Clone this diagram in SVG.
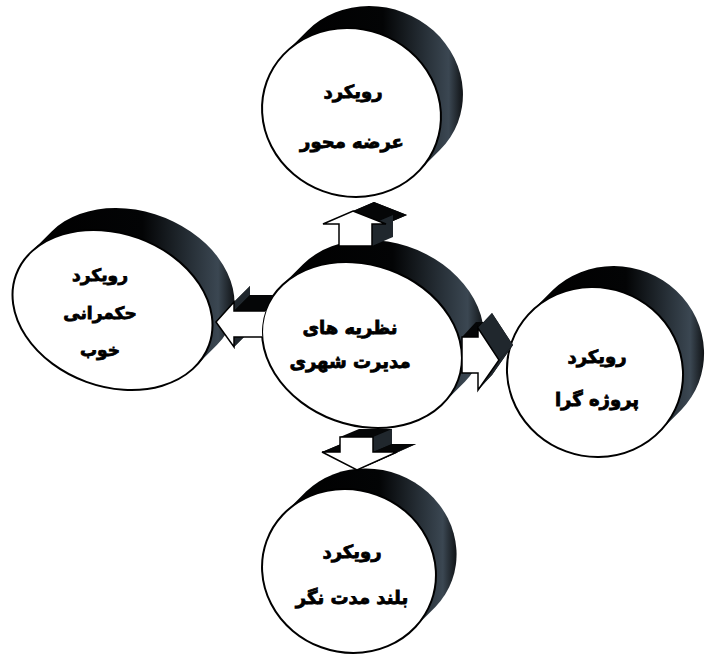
<svg xmlns="http://www.w3.org/2000/svg" xmlns:xlink="http://www.w3.org/1999/xlink" width="719" height="654" viewBox="0 0 719 654">
<style>
.side{fill:url(#side)}
.face{fill:#fff;stroke:#000;stroke-width:2}
.lbl{font-family:"DejaVu Sans","Noto Sans",sans-serif;font-weight:bold;font-size:18px;fill:#000;stroke:#000;stroke-width:0.8;text-anchor:middle;direction:rtl}
.sm{font-size:17px}
.k{fill:#050607}
.g{fill:#20272d}
.af{fill:#fff;stroke:#000;stroke-width:1.5;stroke-linejoin:miter}
</style>
<defs>
<linearGradient id="side" x1="0" y1="0" x2="1" y2="0">
<stop offset="0" stop-color="#000"/>
<stop offset="0.55" stop-color="#030405"/>
<stop offset="0.8" stop-color="#29323a"/>
<stop offset="0.92" stop-color="#3b4752"/>
<stop offset="1" stop-color="#101316"/>
</linearGradient>
<clipPath id="notCenter">
<path clip-rule="evenodd" d="M0,0H719V654H0Z M265.87,310.01 A102.3,80.1 20 1 1 458.13,379.99 A102.3,80.1 20 1 1 265.87,310.01 Z"/>
</clipPath>
</defs>

<g id="node-top">
<path class="side" d="M285.1,52.9 L307.1,30.9 A90.2,83.7 20 0 1 439.9,150.1 L417.9,172.1 Z"/>
<ellipse class="face" cx="351.5" cy="112.5" rx="90.2" ry="83.7" transform="rotate(20 351.5 112.5)"/>
<text class="lbl" x="353" y="98">رویکرد</text>
<text class="lbl" x="352" y="148">عرضه محور</text>
</g>

<g id="node-left">
<path class="side" d="M29.9,253.2 L51.9,231.2 A102.7,76.5 20 0 1 217.1,344.8 L195.1,366.8 Z"/>
<ellipse class="face" cx="112.5" cy="310" rx="102.7" ry="76.5" transform="rotate(20 112.5 310)"/>
<text class="lbl sm" x="100" y="281">رویکرد</text>
<text class="lbl sm" x="100" y="319">حکمرانی</text>
<text class="lbl sm" x="100" y="356">خوب</text>
</g>

<g id="node-right">
<path class="side" d="M530.8,312.1 L552.8,290.1 A88.5,84.5 20 0 1 681.2,410 L659.2,432 Z"/>
<ellipse class="face" cx="595" cy="372" rx="88.5" ry="84.5" transform="rotate(20 595 372)"/>
<text class="lbl" x="597" y="363">رویکرد</text>
<text class="lbl" x="597" y="406">پروژه گرا</text>
</g>

<g id="node-bottom">
<path class="side" d="M284.4,513.2 L306.4,491.2 A87.7,81.2 20 0 1 435.6,606.8 L413.6,628.8 Z"/>
<ellipse class="face" cx="349" cy="571" rx="87.7" ry="81.2" transform="rotate(20 349 571)"/>
<text class="lbl" x="352" y="558">رویکرد</text>
<text class="lbl" x="352" y="604">بلند مدت نگر</text>
</g>

<g id="node-center">
<path class="side" d="M281.1,286.3 L303.1,264.3 A102.3,80.1 20 0 1 464.9,381.7 L442.9,403.7 Z"/>
<ellipse class="face" cx="362" cy="345" rx="102.3" ry="80.1" transform="rotate(20 362 345)"/>
<text class="lbl" x="350" y="334">نظریه های</text>
<text class="lbl" x="350" y="368">مدیرت شهری</text>
</g>

<g id="connectors" clip-path="url(#notCenter)">
<g id="arrow-up">
<polygon class="k" points="374,202 407,215 393,215 393,237 360,237 360,215 344,215"/>
<polygon class="k" points="353,211 386,224 407,215 374,202"/>
<polygon class="k" points="386,224 372,224 393,215 407,215"/>
<polygon class="g" points="372,224 372,246 393,237 393,215"/>
<polygon class="k" points="339,224 323,224 344,215 360,215"/>
<polygon class="k" points="323,224 353,211 374,202 344,215"/>
<polygon class="af" points="353,211 386,224 372,224 372,246 339,246 339,224 323,224"/>
</g>
<g id="arrow-down">
<polygon class="k" points="359,429 392,429 392,444 416,444 376,462 341,444 359,444"/>
<polygon class="k" points="340,437 373,437 392,429 359,429"/>
<polygon class="g" points="373,437 373,452 392,444 392,429"/>
<polygon class="k" points="373,452 397,452 416,444 392,444"/>
<polygon class="g" points="397,452 357,470 376,462 416,444"/>
<polygon class="k" points="322,452 340,452 359,444 341,444"/>
<polygon class="k" points="357,470 322,452 341,444 376,462"/>
<polygon class="af" points="340,437 373,437 373,452 397,452 357,470 322,452 340,452"/>
</g>
<g id="arrow-left">
<polygon class="k" points="232,306 250,286 250,295 306,295 306,321 250,321 250,331"/>
<polygon class="k" points="216,322 234,302 250,286 232,306"/>
<polygon class="g" points="234,302 234,311 250,295 250,286"/>
<polygon class="k" points="234,311 290,311 306,295 250,295"/>
<polygon class="g" points="234,337 234,347 250,331 250,321"/>
<polygon class="g" points="234,347 216,322 232,306 250,331"/>
<polygon class="af" points="216,322 234,302 234,311 290,311 290,337 234,337 234,347"/>
</g>
<g id="arrow-right">
<polygon class="k" points="476,322 492,322 492,313 513,345 492,375 492,358 476,358"/>
<polygon class="k" points="462,337 478,337 492,322 476,322"/>
<polygon class="g" points="478,337 478,328 492,313 492,322"/>
<polygon class="g" points="478,328 499,360 513,345 492,313"/>
<polygon class="g" points="499,360 478,390 492,375 513,345"/>
<polygon class="g" points="478,373 478,390 492,375 492,358"/>
<polygon class="af" points="462,337 478,337 478,328 499,360 478,390 478,373 462,373"/>
</g>
</g>
</svg>
